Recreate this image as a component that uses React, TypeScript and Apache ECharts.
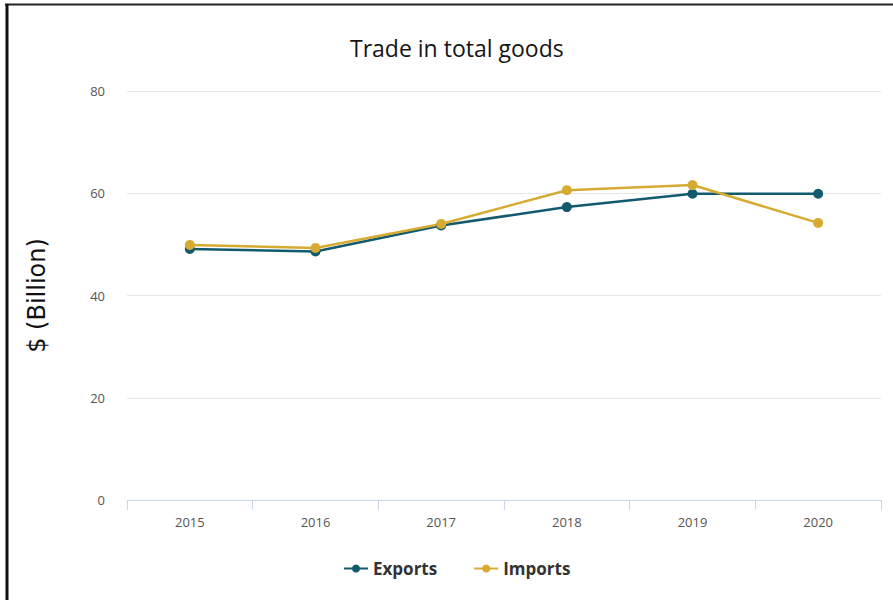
import React, { useEffect, useRef } from "react";
import * as echarts from "echarts";

const categories = ["2015", "2016", "2017", "2018", "2019", "2020"];
const exportsData = [49.1, 48.6, 53.7, 57.3, 59.9, 59.9];
const importsData = [49.9, 49.3, 54.0, 60.6, 61.6, 54.2];
const yTicks = { min: 0, max: 80, interval: 20 };

export default function App() {
  const ref = useRef<HTMLDivElement>(null);
  useEffect(() => {
    if (!ref.current) return;
    const chart = echarts.init(ref.current, undefined, { renderer: "svg" });
    const font = "'Open Sans', 'Noto Sans', sans-serif";
    chart.setOption({
      animation: false,
      backgroundColor: "#ffffff",
      title: {
        text: "Trade in total goods",
        left: 345,
        top: 31,
        textStyle: { fontFamily: font, fontSize: 23, fontWeight: "normal", color: "#151515" },
      },
      legend: {
        bottom: 18,
        left: 338,
        itemWidth: 24,
        itemHeight: 10,
        itemGap: 36,
        textStyle: { fontFamily: font, fontSize: 17, fontWeight: "bold", color: "#333" },
        data: ["Exports", "Imports"],
      },
      grid: { left: 127, right: 12, top: 91, bottom: 100 },
      xAxis: {
        type: "category",
        data: categories,
        boundaryGap: true,
        axisLine: { lineStyle: { color: "#ccd6eb", width: 1 } },
        axisTick: { show: true, length: 10, lineStyle: { color: "#ccd6eb" } },
        axisLabel: { fontFamily: font, fontSize: 13, color: "#555", margin: 15 },
      },
      yAxis: {
        type: "value",
        min: yTicks.min,
        max: yTicks.max,
        interval: yTicks.interval,
        name: "$ (Billion)",
        nameLocation: "middle",
        nameGap: 78,
        nameTextStyle: { fontFamily: "'DejaVu Sans', sans-serif", fontSize: 24, color: "#111" },
        axisLine: { show: false },
        axisTick: { show: false },
        splitLine: { lineStyle: { color: "#e6e6e6" } },
        axisLabel: { fontFamily: font, fontSize: 13, color: "#555", margin: 22 },
      },
      series: [
        {
          name: "Exports",
          type: "line",
          data: exportsData,
          symbol: "circle",
          symbolSize: 10,
          lineStyle: { width: 2.5, color: "#125a6d" },
          itemStyle: { color: "#125a6d" },
        },
        {
          name: "Imports",
          type: "line",
          data: importsData,
          symbol: "circle",
          symbolSize: 10,
          lineStyle: { width: 2.5, color: "#d6ab32" },
          itemStyle: { color: "#d6ab32" },
        },
      ],
      graphic: [
        { type: "line", shape: { x1: 5, y1: 4.5, x2: 893, y2: 4.5 }, style: { stroke: "#222", lineWidth: 2 } },
        { type: "line", shape: { x1: 7, y1: 4, x2: 7, y2: 600 }, style: { stroke: "#111", lineWidth: 3 } },
      ],
    });
    return () => chart.dispose();
  }, []);
  return (
    <div
      ref={ref}
      style={{ position: "absolute", left: 0, top: 0, width: 893, height: 600 }}
    />
  );
}
